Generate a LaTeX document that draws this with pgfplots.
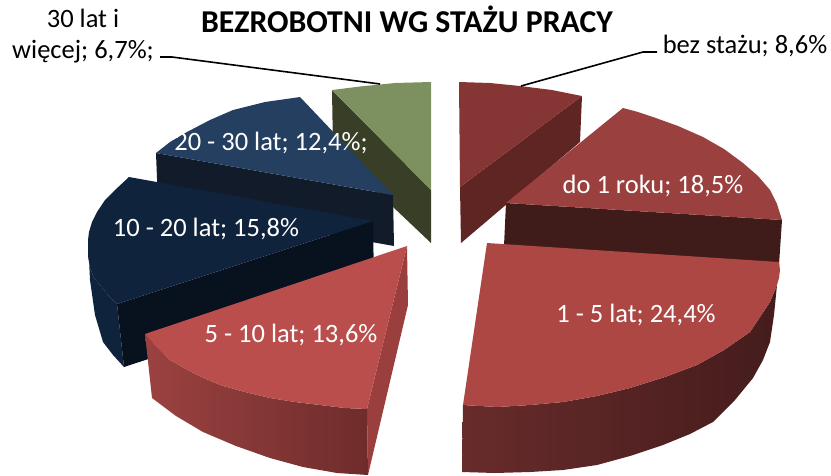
\documentclass[border=0pt]{standalone}
\usepackage{pgfplots}
\pgfplotsset{compat=1.18}
\usepackage{fontspec}
\setmainfont{Carlito}
\definecolor{gtop}{HTML}{7D9160}
\definecolor{gcut}{HTML}{393F26}
\definecolor{btop}{HTML}{243F60}
\definecolor{bcut}{HTML}{111B29}
\definecolor{ntop}{HTML}{10233D}
\definecolor{ncut}{HTML}{08111E}
\definecolor{rtop}{HTML}{BA4E4C}
\definecolor{rcut}{HTML}{9B3F3E}
\definecolor{rsa}{HTML}{9B4241}
\definecolor{rsb}{HTML}{6E2C2B}
\definecolor{ftop}{HTML}{AC4744}
\definecolor{fsa}{HTML}{682B2B}
\definecolor{fsb}{HTML}{451C1C}
\definecolor{dtop}{HTML}{9A403E}
\definecolor{dcut}{HTML}{3F1B19}
\definecolor{ztop}{HTML}{853533}
\definecolor{zcut}{HTML}{5F2523}
\begin{document}
\begin{tikzpicture}
\begin{axis}[name=a,hide axis,scale only axis,width=831pt,height=475pt,
  xmin=0,xmax=831,ymin=0,ymax=475,y dir=reverse,clip=false,
  every axis plot/.append style={draw=none,mark=none}]
% 30 lat i wiecej
\addplot[fill=gcut] coordinates {(332,90)(431,190)(431,243)(333,150)} --cycle;
\addplot[fill=gtop] coordinates {(332,90)(360,86.5)(395,83)(431,82)(431,190)} --cycle;
% 20-30
\addplot[fill=bcut] coordinates {(156,153)(393,195)(394,246)(158,204)} --cycle;
\addplot[fill=btop] coordinates {(156,153)(170,142)(187,132)(210,120)(233,110)(265,102)(300,97)(393,195)} --cycle;
% 10-20
\addplot[fill=ntop] coordinates {(88,240)(88,255)(90,268)(94,278)(100,285)(108,295)(117,304)(124,367)(113,355)(103,342)(95,315)(90,280)} --cycle;
\addplot[fill=ncut] coordinates {(117,304)(373,221)(374,285)(124,367)} --cycle;
\addplot[fill=ntop] coordinates {(129,177)(115,190)(105,200)(97,212)(92,222)(89,232)(88,240)(88,255)(90,268)(94,278)(100,285)(108,295)(117,304)(373,221)} --cycle;
% 5-10
\addplot[fill=rcut] coordinates {(407,246)(408,305)(368,475)(367,409)} --cycle;
\addplot[left color=rsa,right color=rsb] coordinates {(145,334)(157,348)(170,360)(195,374)(220,385)(245,392)(270,398)(295,402)(320,405)(345,408)(367,409)(368,475)(337,473)(303,467)(270,458)(236,446)(203,432)(176,416)(152,398)} --cycle;
\addplot[fill=rtop] coordinates {(407,246)(145,334)(157,348)(170,360)(195,374)(220,385)(245,392)(270,398)(295,402)(320,405)(345,408)(367,409)} --cycle;
% bez stazu
\addplot[fill=zcut] coordinates {(460,187)(582,96)(580,142)(461,243)} --cycle;
\addplot[fill=ztop] coordinates {(459,82)(490,83)(520,86)(552,90)(582,96)(460,187)} --cycle;
% do 1 roku
\addplot[fill=dcut] coordinates {(506,203)(782,220)(779,265)(504,246)} --cycle;
\addplot[fill=dtop] coordinates {(623,108)(638,112)(653,117)(678,126)(703,137)(724,149)(743,163)(758,176)(770,190)(777,204)(782,220)(506,203)} --cycle;
% 1-5
\addplot[left color=fsa,middle color=fsb,right color=fsb] coordinates {(463,405)(497,407)(530,405)(563,402)(597,396)(630,388)(665,377)(697,365)(724,350)(750,332)(770,302)(777,285)(774,315)(770,342)(763,360)(753,378)(735,400)(713,422)(690,434)(663,445)(630,456)(597,465)(563,470)(530,472)(495,473)(462,472)} --cycle;
\addplot[fill=ftop] coordinates {(487,243)(779,262)(780,270)(779,278)(777,285)(770,302)(750,332)(724,350)(697,365)(665,377)(630,388)(597,396)(563,402)(530,405)(497,407)(463,405)} --cycle;
% leaders
\addplot[draw=black,line width=1.6pt] coordinates {(160,57)(172,57)(380,84)};
\addplot[draw=black,line width=1.6pt] coordinates {(657,52)(643,52)(521,86)};
% text
\newcommand{\lab}{\fontsize{26.5}{30}\selectfont}
\node[anchor=base,font=\fontsize{31.8}{36}\selectfont\bfseries,text=black] at (axis cs:407,32) {BEZROBOTNI WG STAŻU PRACY};
\node[anchor=base,font=\lab] at (axis cs:83,27) {30 lat i};
\node[anchor=base,font=\lab] at (axis cs:83,58) {więcej; 6,7\%;};
\node[anchor=base,font=\lab] at (axis cs:745,53) {bez stażu; 8,6\%};
\node[anchor=base,font=\lab,text=white] at (axis cs:653,193) {do 1 roku; 18,5\%};
\node[anchor=base,font=\lab,text=white] at (axis cs:636,322) {1 - 5 lat; 24,4\%};
\node[anchor=base,font=\lab,text=white] at (axis cs:291,342) {5 - 10 lat; 13,6\%};
\node[anchor=base,font=\lab,text=white] at (axis cs:206,236) {10 - 20 lat; 15,8\%};
\node[anchor=base,font=\lab,text=white] at (axis cs:271,150) {20 - 30 lat; 12,4\%;};
\end{axis}
\pgfresetboundingbox
\path[use as bounding box] (a.south west) rectangle (a.north east);
\end{tikzpicture}
\end{document}
